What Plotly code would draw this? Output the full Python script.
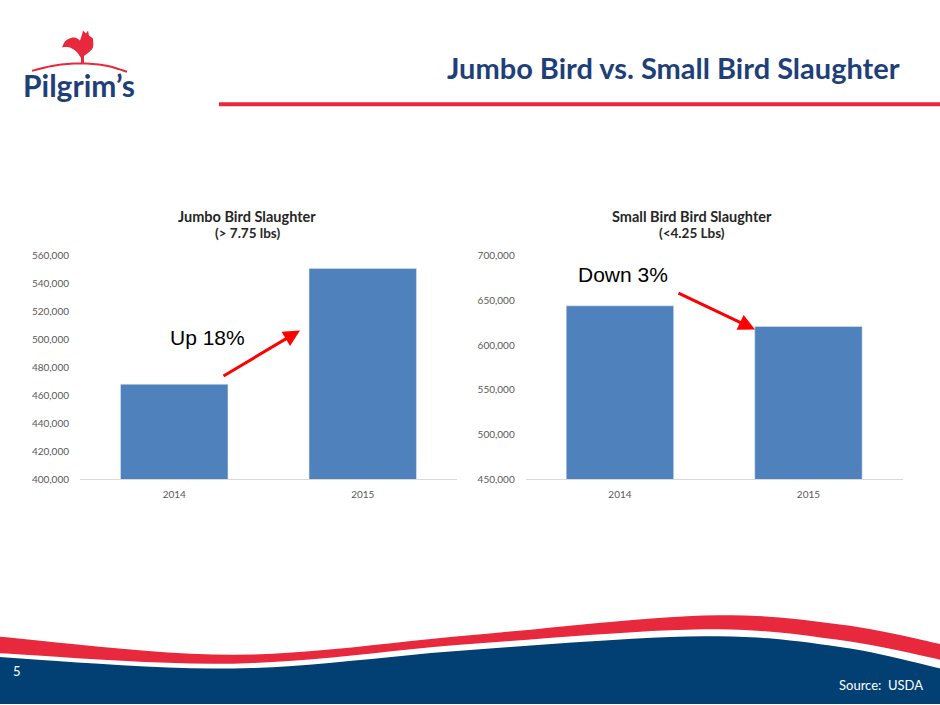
import plotly.graph_objects as go
import numpy as np

# ---------------- data ----------------
years = ["2014", "2015"]
jumbo_values = [468000, 551000]
small_values = [644000, 621000]
jumbo_ticks = [400000, 420000, 440000, 460000, 480000, 500000, 520000, 540000, 560000]
small_ticks = [450000, 500000, 550000, 600000, 650000, 700000]

W, H = 940, 705
BAR = "#4F81BD"
NAVY = "#1F3F78"
WAVE_BLUE = "#023F73"
RED = "#E8283C"

def px(x):
    return x / W

def py(y):
    return 1 - y / H

def catmull(points, n=12):
    pts = [points[0]] + points + [points[-1]]
    out = []
    for i in range(1, len(pts) - 2):
        p0, p1, p2, p3 = [np.array(p, float) for p in pts[i - 1:i + 3]]
        for t in np.linspace(0, 1, n, endpoint=False):
            t2, t3 = t * t, t * t * t
            q = 0.5 * ((2 * p1) + (-p0 + p2) * t + (2 * p0 - 5 * p1 + 4 * p2 - p3) * t2
                       + (-p0 + 3 * p1 - 3 * p2 + p3) * t3)
            out.append(q)
    out.append(np.array(points[-1], float))
    return out

def path_from(pixpts, close=True):
    s = "M " + " L ".join(f"{px(x):.5f},{py(y):.5f}" for x, y in pixpts)
    return s + (" Z" if close else "")

fig = go.Figure()

fig.add_trace(go.Bar(x=years, y=jumbo_values, marker_color=BAR, width=0.57,
                     xaxis="x", yaxis="y", showlegend=False, hoverinfo="x+y"))
fig.add_trace(go.Bar(x=years, y=small_values, marker_color=BAR, width=0.57,
                     xaxis="x2", yaxis="y2", showlegend=False, hoverinfo="x+y"))

tickfont = dict(family="Lato, sans-serif", size=10, color="#595959")
yd = [py(481), py(253.5)]

def xax(domain, anchor):
    return dict(domain=domain, anchor=anchor, showgrid=False, zeroline=False,
                showline=True, linecolor="#D9D9D9", linewidth=1, ticks="",
                tickfont=tickfont, ticklabelstandoff=6, fixedrange=True)

def yax(domain, anchor, rng, ticks):
    return dict(domain=domain, anchor=anchor, range=rng, tickvals=ticks,
                tickformat=",d", showgrid=False, zeroline=False, showline=False,
                ticks="", tickfont=tickfont, ticklabelstandoff=10, fixedrange=True)

shapes = []

# header red line
shapes.append(dict(type="rect", xref="paper", yref="paper",
                   x0=px(219), x1=1.0, y0=py(101), y1=py(97),
                   fillcolor=RED, line_width=0, layer="below"))

# bottom waves
red_top = [(-5, 641), (233, 660), (470, 640), (703, 620), (840, 629), (945, 650)]
red_bot = [(-5, 658), (233, 669), (470, 649), (703, 634), (840, 645), (945, 666)]
blue_top = [(-5, 662), (233, 674), (470, 655), (703, 641), (840, 652), (945, 675)]

rt = catmull(red_top)
rb = catmull(red_bot)[::-1]
shapes.append(dict(type="path", xref="paper", yref="paper",
                   path=path_from([tuple(p) for p in rt] + [tuple(p) for p in rb]),
                   fillcolor=RED, line_width=0, layer="below"))
bt = catmull(blue_top)
shapes.append(dict(type="path", xref="paper", yref="paper",
                   path=path_from([tuple(p) for p in bt] + [(945, 710), (-5, 710)]),
                   fillcolor=WAVE_BLUE, line_width=0, layer="below"))

# logo: arc + rooster plume
arc = catmull([(32, 65), (55, 59.5), (80, 57.5), (105, 59.5), (127, 66)], n=8)
shapes.append(dict(type="path", xref="paper", yref="paper",
                   path=path_from([tuple(p) for p in arc], close=False),
                   line=dict(color=RED, width=2), fillcolor="rgba(0,0,0,0)"))
plume = [(81, 58), (81, 52)] + [tuple(p) for p in catmull([(81, 52), (76, 45), (69, 41), (62, 41)], n=5)] \
    + [tuple(p) for p in catmull([(62, 41), (66, 34), (74, 31), (80, 34)], n=5)] \
    + [(82, 28), (83, 24), (86, 27), (88, 24), (89, 29), (93, 32)] \
    + [tuple(p) for p in catmull([(93, 32), (93, 41), (89, 46), (84, 50)], n=5)] + [(84, 58)]
shapes.append(dict(type="path", xref="paper", yref="paper", path=path_from(plume),
                   fillcolor=RED, line_width=0))

annotations = []
# header title
annotations.append(dict(text="<b>Jumbo Bird vs. Small Bird Slaughter</b>", xref="paper", yref="paper",
                        x=px(902), y=py(62), xanchor="right", yanchor="middle", showarrow=False,
                        font=dict(family="Lato, sans-serif", size=29, color=NAVY)))
# logo text
annotations.append(dict(text="<b>Pilgrim’s</b>", xref="paper", yref="paper",
                        x=px(79), y=py(79), xanchor="center", yanchor="middle", showarrow=False,
                        font=dict(family="Lato, sans-serif", size=30, color=NAVY)))
# chart titles
for cx, t1, t2 in [(247, "Jumbo Bird Slaughter", "(> 7.75 lbs)"),
                   (692, "Small Bird Bird Slaughter", "(<4.25 Lbs)")]:
    annotations.append(dict(text=f"<b>{t1}</b>", xref="paper", yref="paper", x=px(cx), y=py(213),
                            xanchor="center", yanchor="middle", showarrow=False,
                            font=dict(family="Lato, sans-serif", size=14.5, color="#262626")))
    annotations.append(dict(text=f"<b>{t2}</b>", xref="paper", yref="paper", x=px(cx), y=py(230),
                            xanchor="center", yanchor="middle", showarrow=False,
                            font=dict(family="Lato, sans-serif", size=13.5, color="#262626")))
# callouts
annotations.append(dict(text="Up 18%", xref="paper", yref="paper", x=px(207), y=py(337),
                        xanchor="center", yanchor="middle", showarrow=False,
                        font=dict(family="Liberation Sans, Arial, sans-serif", size=21, color="#000000")))
annotations.append(dict(text="Down 3%", xref="paper", yref="paper", x=px(623), y=py(273),
                        xanchor="center", yanchor="middle", showarrow=False,
                        font=dict(family="Liberation Sans, Arial, sans-serif", size=21, color="#000000")))
annotations.append(dict(text="", xref="paper", yref="paper", x=px(300), y=py(329.5),
                        ax=-78, ay=46.5, axref="pixel", ayref="pixel", showarrow=True,
                        arrowhead=2, arrowsize=1.1, arrowwidth=3, arrowcolor="#FF0000", standoff=0))
annotations.append(dict(text="", xref="paper", yref="paper", x=px(755), y=py(328.5),
                        ax=-78, ay=-37, axref="pixel", ayref="pixel", showarrow=True,
                        arrowhead=2, arrowsize=1.1, arrowwidth=3, arrowcolor="#FF0000", standoff=0))
# footer
annotations.append(dict(text="5", xref="paper", yref="paper", x=px(17), y=py(676),
                        xanchor="center", yanchor="middle", showarrow=False,
                        font=dict(family="Lato, sans-serif", size=13, color="#FFFFFF")))
annotations.append(dict(text="Source:  USDA", xref="paper", yref="paper", x=px(925), y=py(691),
                        xanchor="right", yanchor="middle", showarrow=False,
                        font=dict(family="Lato, sans-serif", size=13, color="#FFFFFF")))

fig.update_layout(
    width=W, height=H, autosize=False,
    margin=dict(l=0, r=0, t=0, b=0),
    paper_bgcolor="white", plot_bgcolor="white",
    bargap=0.43,
    xaxis=xax([px(80), px(457)], "y"),
    yaxis=yax(yd, "x", [400000, 560000], jumbo_ticks),
    xaxis2=xax([px(525.7), px(902.7)], "y2"),
    yaxis2=yax(yd, "x2", [450000, 700000], small_ticks),
    shapes=shapes,
    annotations=annotations,
)

fig.write_html("out.html", config={"displayModeBar": False},
               post_script="document.body.style.margin='0';document.body.style.overflow='hidden';")
